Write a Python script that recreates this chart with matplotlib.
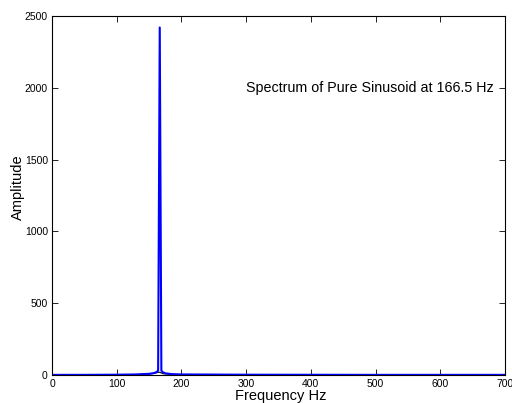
import matplotlib
matplotlib.use('Agg')
import matplotlib.pyplot as plt

# spectrum samples (Hz, amplitude)
freq = [0, 50, 100, 130, 150, 158, 162, 164, 166.5, 169, 171, 175, 185, 200, 300, 500, 700]
amp = [1, 1, 2, 4, 8, 14, 22, 30, 2420, 30, 20, 12, 6, 4, 2, 1, 1]
# faint black trace hugging the base near the peak
freq_k = [0, 100, 140, 155, 162, 165, 168, 172, 185, 200, 700]
amp_k = [0, 1, 4, 9, 16, 20, 16, 9, 4, 1, 0]

xticks = [0, 100, 200, 300, 400, 500, 600, 700]
yticks = [0, 500, 1000, 1500, 2000, 2500]

plt.rcParams['font.family'] = ['Liberation Sans', 'DejaVu Sans']
fig = plt.figure(figsize=(5.12, 4.03), dpi=100)
ax = fig.add_axes([52 / 512, 28 / 403, 453 / 512, 359 / 403])

ax.plot(freq_k, amp_k, color='black', lw=0.8)
ax.plot(freq, amp, color='#0000ff', lw=1.5)

ax.set_xlim(0, 700)
ax.set_ylim(0, 2500)
ax.set_xticks(xticks)
ax.set_yticks(yticks)
ax.tick_params(direction='in', labelsize=7.5, length=4, width=0.6, top=True, right=True, pad=3)
for s in ax.spines.values():
    s.set_linewidth(0.8)

ax.set_xlabel('Frequency Hz', fontsize=10.5)
ax.xaxis.set_label_coords(0.506, -0.04)
ax.xaxis.label.set_va('top')
ax.set_ylabel('Amplitude', fontsize=10.5)
ax.yaxis.set_label_coords(-0.06, 0.524)
ax.text(300, 1998, 'Spectrum of Pure Sinusoid at 166.5 Hz', fontsize=10.3, va='center')

fig.savefig('out.png', dpi=100)
